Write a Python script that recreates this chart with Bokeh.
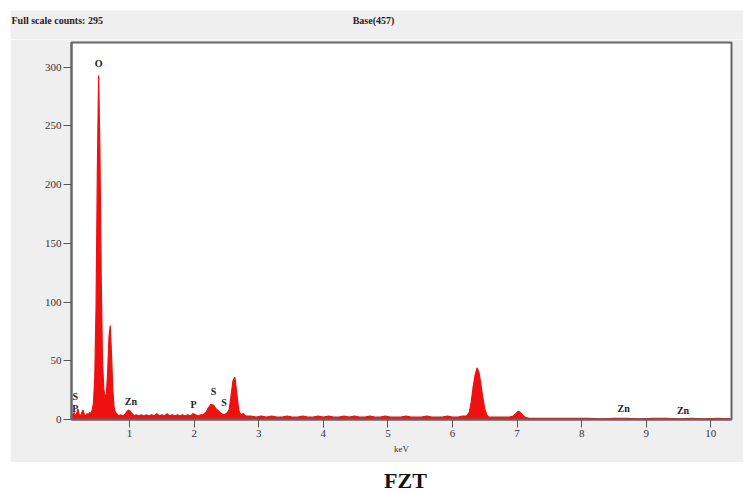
from bokeh.plotting import figure
from bokeh.models import FixedTicker, Spacer, ColumnDataSource
from bokeh.layouts import column, row
from bokeh.embed import file_html
from bokeh.resources import INLINE
from bokeh.core.properties import value

# EDS spectrum: energy (keV) and counts
kev = [
    0.10, 0.12, 0.14, 0.16, 0.18, 0.20, 0.22, 0.24, 0.26, 0.28, 0.30, 0.32,
    0.34, 0.36, 0.38, 0.40, 0.42, 0.44, 0.46, 0.48, 0.50, 0.52, 0.54, 0.56,
    0.58, 0.60, 0.62, 0.64, 0.66, 0.68, 0.70, 0.72, 0.74, 0.76, 0.78, 0.80,
    0.83, 0.86, 0.89, 0.92, 0.95, 0.98, 1.01, 1.04, 1.07, 1.10, 1.14, 1.18,
    1.22, 1.26, 1.30, 1.34, 1.38, 1.42, 1.46, 1.50, 1.54, 1.58, 1.62, 1.66,
    1.70, 1.74, 1.78, 1.82, 1.86, 1.90, 1.94, 1.98, 2.02, 2.06, 2.10, 2.14,
    2.18, 2.22, 2.26, 2.30, 2.34, 2.38, 2.42, 2.46, 2.50, 2.54, 2.57, 2.60,
    2.63, 2.66, 2.69, 2.72, 2.76, 2.80, 2.88, 2.96, 3.04, 3.12, 3.20, 3.28,
    3.36, 3.44, 3.52, 3.60, 3.68, 3.76, 3.84, 3.92, 4.00, 4.08, 4.16, 4.24,
    4.32, 4.40, 4.48, 4.56, 4.64, 4.72, 4.80, 4.88, 4.96, 5.04, 5.12, 5.20,
    5.28, 5.36, 5.44, 5.52, 5.60, 5.68, 5.76, 5.84, 5.92, 6.00, 6.08, 6.16,
    6.22, 6.26, 6.29, 6.32, 6.35, 6.38, 6.41, 6.44, 6.47, 6.50, 6.53, 6.56,
    6.64, 6.72, 6.80, 6.88, 6.94, 6.98, 7.02, 7.05, 7.08, 7.12, 7.18, 7.30,
    7.50, 7.70, 7.90, 8.10, 8.30, 8.50, 8.70, 8.90, 9.10, 9.30, 9.50, 9.70,
    9.90, 10.10, 10.30,
]
counts = [
    0, 4, 6, 3, 5, 9, 4, 3, 6, 8, 4, 3,
    5, 4, 6, 5, 8, 14, 35, 95, 210, 293, 230, 120,
    50, 26, 18, 22, 40, 70, 80, 55, 25, 10, 6, 5,
    3, 4, 3, 4, 6, 8, 7, 5, 3, 4, 3, 4,
    3, 4, 3, 4, 3, 5, 3, 4, 3, 5, 3, 4,
    3, 4, 3, 4, 3, 4, 3, 5, 4, 3, 4, 4,
    6, 10, 13, 12, 9, 7, 5, 4, 5, 8, 20, 33,
    36, 22, 8, 4, 5, 3, 3, 2, 3, 2, 3, 2,
    2, 3, 2, 2, 3, 2, 2, 3, 2, 3, 2, 2,
    3, 2, 3, 2, 2, 3, 2, 2, 3, 2, 2, 2,
    3, 2, 2, 2, 3, 2, 2, 2, 3, 2, 2, 3,
    3, 6, 15, 28, 38, 44, 40, 30, 18, 9, 4, 2,
    2, 2, 2, 2, 3, 5, 7, 6, 4, 2, 1, 1,
    1, 1, 1, 1, 0.5, 1, 1, 0.5, 1, 1, 0.5, 1,
    0.5, 1, 0.5,
]

# Element markers placed over the peaks
peak_names = ["O", "S", "P", "Zn", "P", "S", "S", "Zn", "Zn"]
peak_kev = [0.52, 0.16, 0.16, 1.02, 1.99, 2.30, 2.46, 8.65, 9.57]
peak_counts = [303, 20, 9.5, 15.5, 13, 24, 14.5, 9, 7.7]

x_ticks = [1, 2, 3, 4, 5, 6, 7, 8, 9, 10]
y_ticks = [0, 50, 100, 150, 200, 250, 300]

full_scale_text = "Full scale counts: 295"
base_text = "Base(457)"
sample_name = "FZT"

GREY = "#efefef"
RED = "#ee1111"
SERIF = "Liberation Serif"

# Header strip with the acquisition info (coordinates in page pixels)
header = figure(width=743, height=39, x_range=(0, 743), y_range=(0, 39),
                x_axis_type=None, y_axis_type=None, toolbar_location=None,
                output_backend="svg", min_border=0, outline_line_color=None,
                background_fill_color="white", border_fill_color="white")
header.grid.visible = False
header.quad(left=[10], right=[743], bottom=[0], top=[29],
            fill_color=GREY, line_color=None)
header.text(x=[11], y=[19], text=[full_scale_text], text_font=value(SERIF),
            text_font_size="10px", text_font_style="bold", text_color="#222222",
            text_align="left", text_baseline="middle")
header.text(x=[373], y=[19], text=[base_text], text_font=value(SERIF),
            text_font_size="10px", text_font_style="bold", text_color="#222222",
            text_align="center", text_baseline="middle")

# Spectrum panel
p = figure(width=733, height=423, x_range=(0.1, 10.32), y_range=(0, 321),
           toolbar_location=None, output_backend="svg",
           min_border_left=61, min_border_right=12, min_border_top=3,
           min_border_bottom=43,
           background_fill_color="white", border_fill_color=GREY,
           outline_line_color="#666666", outline_line_width=2)
p.grid.visible = False

src = ColumnDataSource(dict(kev=kev, counts=counts))
p.varea(x="kev", y1=0, y2="counts", source=src, fill_color=RED)
p.line(x="kev", y="counts", source=src, line_color=RED, line_width=1.2)

p.text(x=peak_kev, y=peak_counts, text=peak_names, text_font=value(SERIF),
       text_font_size="10px", text_font_style="bold", text_color="#222222",
       text_align="center", text_baseline="middle")

p.xaxis.ticker = FixedTicker(ticks=x_ticks)
p.yaxis.ticker = FixedTicker(ticks=y_ticks)
p.xaxis.axis_label = "keV"
for ax in (p.xaxis, p.yaxis):
    ax.axis_line_color = "#666666"
    ax.axis_line_width = 2
    ax.major_tick_line_color = "#555555"
    ax.major_tick_line_width = 1
    ax.major_tick_in = 0
    ax.major_tick_out = 8
    ax.minor_tick_line_color = None
    ax.major_label_text_font = SERIF
    ax.major_label_text_font_size = "11px"
    ax.major_label_text_color = "#333333"
    ax.major_label_standoff = 2
p.xaxis.axis_label_text_font = SERIF
p.xaxis.axis_label_text_font_size = "9px"
p.xaxis.axis_label_text_font_style = "normal"
p.xaxis.axis_label_text_color = "#333333"
p.xaxis.axis_label_standoff = 4

# Sample caption underneath
caption = figure(width=743, height=32, x_range=(0, 743), y_range=(0, 32),
                 x_axis_type=None, y_axis_type=None, toolbar_location=None,
                 output_backend="svg", min_border=0, outline_line_color=None,
                 background_fill_color="white", border_fill_color="white")
caption.grid.visible = False
caption.text(x=[405], y=[14], text=[sample_name], text_font=value(SERIF),
             text_font_size="22px", text_font_style="bold", text_color="#111111",
             text_align="center", text_baseline="middle")

layout = column(
    header,
    row(Spacer(width=10, height=423), p, spacing=0),
    caption,
    spacing=0,
)

open("out.html", "w").write(file_html(layout, INLINE))
